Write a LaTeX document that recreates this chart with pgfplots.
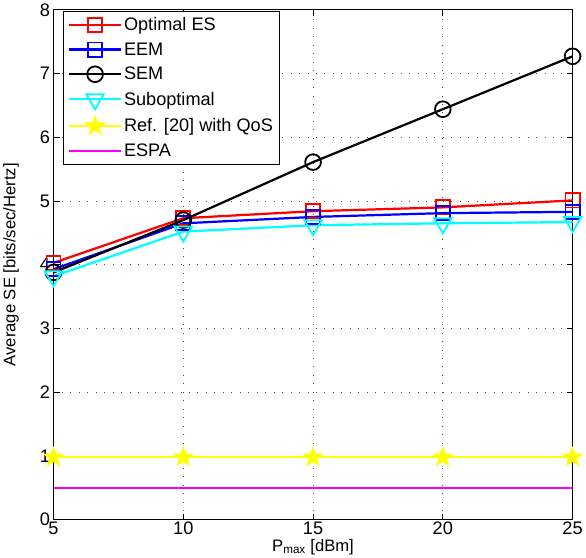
\documentclass[border=0pt]{standalone}
\usepackage{fontspec}
\setmainfont{Liberation Sans}
\usepackage{pgfplots}
\pgfplotsset{compat=1.18}
\definecolor{mred}{rgb}{1,0,0}
\definecolor{mblue}{rgb}{0,0,1}
\definecolor{mcyan}{rgb}{0,1,1}
\definecolor{myellow}{rgb}{1,1,0}
\definecolor{mmag}{rgb}{1,0,1}
% filled five-pointed star
\pgfdeclareplotmark{fstar}{%
  \pgfpathmoveto{\pgfqpointpolar{90}{\pgfplotmarksize}}%
  \pgfpathlineto{\pgfqpointpolar{126}{0.42\pgfplotmarksize}}%
  \pgfpathlineto{\pgfqpointpolar{162}{\pgfplotmarksize}}%
  \pgfpathlineto{\pgfqpointpolar{198}{0.42\pgfplotmarksize}}%
  \pgfpathlineto{\pgfqpointpolar{234}{\pgfplotmarksize}}%
  \pgfpathlineto{\pgfqpointpolar{270}{0.42\pgfplotmarksize}}%
  \pgfpathlineto{\pgfqpointpolar{306}{\pgfplotmarksize}}%
  \pgfpathlineto{\pgfqpointpolar{342}{0.42\pgfplotmarksize}}%
  \pgfpathlineto{\pgfqpointpolar{18}{\pgfplotmarksize}}%
  \pgfpathlineto{\pgfqpointpolar{54}{0.42\pgfplotmarksize}}%
  \pgfpathclose\pgfusepathqfillstroke}
\begin{document}
\begin{tikzpicture}
\begin{axis}[
  scale only axis, width=515pt, height=506pt,
  xmin=5, xmax=25, ymin=0, ymax=8,
  xtick={5,10,...,25}, ytick={0,1,...,8},
  grid=major, grid style={dash pattern=on 0.9pt off 7.5pt, black!70, line width=0.7pt},
  axis line style={line width=1pt}, tick style={black, line width=0.7pt},
  tick align=inside, major tick length=6pt,
  xlabel={P$_{\mathrm{max}}$ [dBm]}, ylabel={Average SE [bits/sec/Hertz]},
  /pgf/number format/assume math mode=true,
  ticklabel style={font=\fontsize{18}{20}\selectfont},
  label style={font=\fontsize{16.5}{19}\selectfont},
  xticklabel style={yshift=1pt},
  xlabel style={yshift=3pt}, ylabel style={yshift=14pt},
  legend style={at={(0.0175,0.998)}, anchor=north west, draw=black, line width=1pt,
    font=\fontsize{18}{21}\selectfont, row sep=6.5pt, inner xsep=5pt, inner ysep=4pt},
  legend cell align=left,
  legend image code/.code={\draw[mark repeat=2, mark phase=2, #1] plot coordinates {(0cm,0cm) (0.9cm,0cm) (1.8cm,0cm)};},
  every axis plot/.append style={line width=2.2pt},
]
\addplot[mred, mark=square, mark size=7pt, mark options={line width=1.8pt}]
  coordinates {(5,4.03) (10,4.73) (15,4.84) (20,4.90) (25,5.01)};
\addlegendentry{Optimal ES}
\addplot[mblue, mark=square, mark size=7pt, mark options={line width=1.8pt}]
  coordinates {(5,3.93) (10,4.65) (15,4.75) (20,4.81) (25,4.83)};
\addlegendentry{EEM}
\addplot[black, mark=o, mark size=7.8pt, mark options={line width=1.8pt}]
  coordinates {(5,3.88) (10,4.70) (15,5.61) (20,6.44) (25,7.27)};
\addlegendentry{SEM}
\addplot[mcyan, mark=triangle, mark size=10pt, mark options={rotate=180, line width=1.8pt}]
  coordinates {(5,3.82) (10,4.52) (15,4.62) (20,4.65) (25,4.67)};
\addlegendentry{Suboptimal}
\addplot[myellow, mark=fstar, mark size=10pt, mark options={fill=myellow, line width=0.8pt}]
  coordinates {(5,0.98) (10,0.98) (15,0.98) (20,0.98) (25,0.98)};
\addlegendentry{Ref. [20] with QoS}
\addplot[mmag, line width=1.8pt] coordinates {(5,0.5) (10,0.5) (15,0.5) (20,0.5) (25,0.5)};
\addlegendentry{ESPA}
\end{axis}
\end{tikzpicture}
\end{document}
